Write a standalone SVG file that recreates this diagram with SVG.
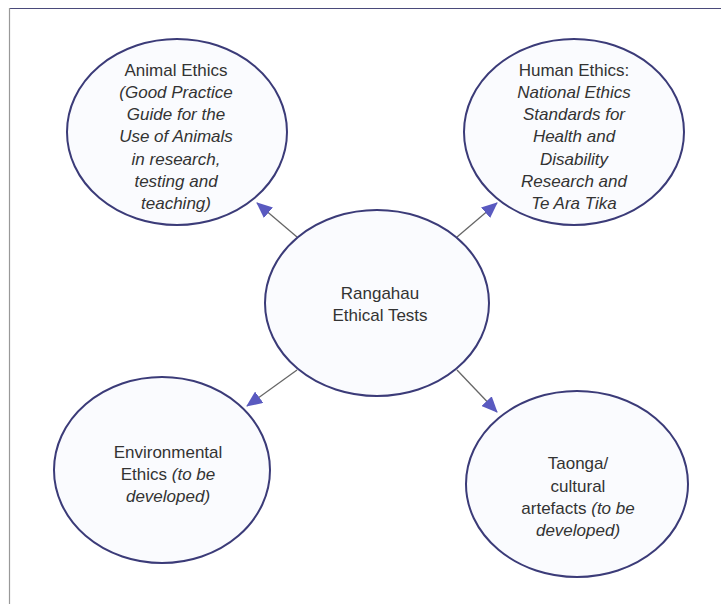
<svg xmlns="http://www.w3.org/2000/svg" width="721" height="604" viewBox="0 0 721 604">
<style>
.node ellipse{fill:#fafbfe;stroke:#3b3b78;stroke-width:2}
text{font-family:"Liberation Sans",Arial,sans-serif;font-size:17px;fill:#333;text-anchor:middle}
.i{font-style:italic}
.conn line{stroke:#666;stroke-width:1.3}
</style>
<defs>
<marker id="ah" markerWidth="16" markerHeight="14" refX="15" refY="7" orient="auto" markerUnits="userSpaceOnUse">
<path d="M0,0 L16,7 L0,14 Z" fill="#5a5ac0"/>
</marker>
</defs>
<rect x="0" y="0" width="721" height="604" fill="#fff"/>
<line x1="9" y1="8.5" x2="721" y2="8.5" stroke="#4a4a7a" stroke-width="1.2"/>
<line x1="9.5" y1="8" x2="9.5" y2="604" stroke="#999" stroke-width="1.2"/>
<g class="conn">
<line x1="297" y1="237" x2="257" y2="203" marker-end="url(#ah)"/>
<line x1="457" y1="237" x2="497" y2="203" marker-end="url(#ah)"/>
<line x1="297" y1="370" x2="247" y2="406" marker-end="url(#ah)"/>
<line x1="457" y1="370" x2="497" y2="412" marker-end="url(#ah)"/>
</g>
<g id="animal" class="node">
<ellipse cx="177" cy="132" rx="110" ry="93"/>
<text x="176" y="76">Animal Ethics</text>
<text class="i" x="176" y="98">(Good Practice</text>
<text class="i" x="176" y="120">Guide for the</text>
<text class="i" x="176" y="142">Use of Animals</text>
<text class="i" x="176" y="165">in research,</text>
<text class="i" x="176" y="187">testing and</text>
<text class="i" x="176" y="209">teaching)</text>
</g>
<g id="human" class="node">
<ellipse cx="574" cy="132" rx="110" ry="93"/>
<text x="574" y="76">Human Ethics:</text>
<text class="i" x="574" y="98">National Ethics</text>
<text class="i" x="574" y="120">Standards for</text>
<text class="i" x="574" y="142">Health and</text>
<text class="i" x="574" y="165">Disability</text>
<text class="i" x="574" y="187">Research and</text>
<text class="i" x="574" y="209">Te Ara Tika</text>
</g>
<g id="center" class="node">
<ellipse cx="377" cy="303" rx="112" ry="93"/>
<text x="380" y="299">Rangahau</text>
<text x="380" y="321">Ethical Tests</text>
</g>
<g id="env" class="node">
<ellipse cx="162" cy="470" rx="108" ry="93"/>
<text x="168" y="458">Environmental</text>
<text x="168" y="480">Ethics <tspan class="i">(to be</tspan></text>
<text class="i" x="168" y="502">developed)</text>
</g>
<g id="taonga" class="node">
<ellipse cx="577" cy="484" rx="111" ry="93"/>
<text x="578" y="469">Taonga/</text>
<text x="578" y="492">cultural</text>
<text x="578" y="514">artefacts <tspan class="i">(to be</tspan></text>
<text class="i" x="578" y="536">developed)</text>
</g>
</svg>
